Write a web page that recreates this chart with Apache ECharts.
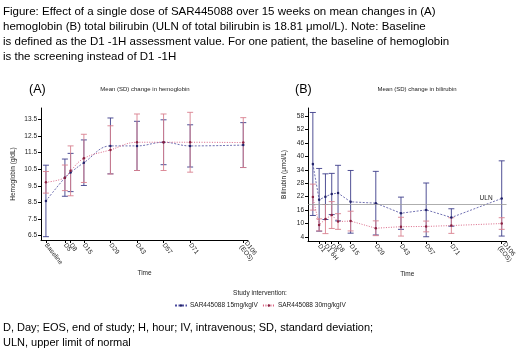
<!DOCTYPE html>
<html><head><meta charset="utf-8">
<script src="https://cdn.jsdelivr.net/npm/echarts@6/dist/echarts.min.js"></script>
<style>html,body{margin:0;padding:0;background:#fff}#c{width:520px;height:358px}</style>
</head><body><div id="c"></div>
<script>
// ---- Panel A: hemoglobin (g/dL) ----
const catsA = ['Baseline','D5','D8','D15','D29','D43','D57','D71','D106\n(EOS)'];
const dayA  = [-5, 5, 8, 15, 29, 43, 57, 71, 99];
const hb15Mean = [8.59, 9.99, 10.3, 10.89, 11.9, 11.9, 12.12, 11.9, 11.95];
const hb15SD   = [2.15, 1.12, 1.15, 1.37, 1.68, 1.48, 1.35, 1.27, 1.35];
const hb30Mean = [9.71, 9.98, 10.4, 11.15, 11.66, 12.12, 12.12, 12.12, 12.1];
const hb30SD   = [0.65, 0.77, 1.5, 1.45, 1.45, 1.7, 1.7, 1.8, 1.5];
const ticksA = [6.5, 7.5, 8.5, 9.5, 10.5, 11.5, 12.5, 13.5];

// ---- Panel B: bilirubin (umol/L) ----
const catsB = ['Baseline','D1','D1 6H','D5','D8','D15','D29','D43','D57','D71','D106\n(EOS)'];
const dayB  = [-6, -2.5, 1, 4.5, 8, 15, 29, 43, 57, 71, 99];
const bil15Mean = [36.6, 20.6, 22, 23.2, 23.6, 19.7, 19.1, 14.6, 16.1, 12.7, 21.2];
const bil15SD   = [23, 14, 10.2, 9.2, 12.4, 14, 14.2, 7.2, 12, 3.9, 16.8];
const bil30Mean = [21.8, 9.4, 12, 13.8, 10.9, 11.1, 7.9, 8.6, 8.7, 9.1, 10];
const bil30SD   = [5.8, 2.7, 6.5, 6, 3.5, 4.4, 3.3, 4.2, 2.4, 3.5, 2.6];
const ticksB = [4, 10, 16, 22, 28, 34, 40, 46, 52, 58];
const ULN = 18.81;

const seriesNames = ['SAR445088 15mg/kgIV', 'SAR445088 30mg/kgIV'];

const BLUE = '#4d4d9e', BLUE_BAR = '#3d3d8a', RED = '#d6587a', RED_BAR = '#d9808f';
const FONT = 'Liberation Sans, Arial, sans-serif';

function pts(days, means){ return days.map((d,i)=>[d, means[i]]); }
function bars(days, means, sds){ return days.map((d,i)=>[d, means[i]-sds[i], means[i]+sds[i]]); }
function errRender(color){
  return function(params, api){
    const x = api.value(0);
    const lo = api.coord([x, api.value(1)]);
    const hi = api.coord([x, api.value(2)]);
    const hw = 3;
    const st = {stroke: color, lineWidth: 0.9};
    return {type:'group', children:[
      {type:'line', shape:{x1:lo[0], y1:lo[1], x2:hi[0], y2:hi[1]}, style:st},
      {type:'line', shape:{x1:lo[0]-hw, y1:lo[1], x2:lo[0]+hw, y2:lo[1]}, style:st},
      {type:'line', shape:{x1:hi[0]-hw, y1:hi[1], x2:hi[0]+hw, y2:hi[1]}, style:st}
    ]};
  };
}
function labelMap(days, cats){ const m = {}; days.forEach((d,i)=>m[d]=cats[i]); return m; }
const mapA = labelMap(dayA, catsA), mapB = labelMap(dayB, catsB);

const tickStyle = {show:true, length:3, lineStyle:{color:'#000', width:1}};
const labFont = {fontFamily: FONT, fontSize: 6.5, color:'#222'};

function xAxis(gi, min, max, days, map){
  return {type:'value', gridIndex:gi, min, max, name:'Time', nameLocation:'middle', nameGap:30,
    nameTextStyle:{fontFamily:FONT, fontSize:6.5, color:'#222'},
    axisLine:{show:true, onZero:false, lineStyle:{color:'#000', width:1}}, splitLine:{show:false},
    axisTick:Object.assign({customValues: days}, tickStyle),
    axisLabel:Object.assign({customValues: days, rotate:-52, margin:4, lineHeight:6.5,
      formatter: v => map[v] || ''}, labFont)};
}
function yAxis(gi, min, max, ticks, name, fmt, gap){
  return {type:'value', gridIndex:gi, min, max, name, nameLocation:'middle', nameGap:gap,
    nameTextStyle:{fontFamily:FONT, fontSize:6.5, color:'#222'},
    axisLine:{show:true, onZero:false, lineStyle:{color:'#000', width:1}}, splitLine:{show:false},
    axisTick:Object.assign({customValues: ticks}, tickStyle),
    axisLabel:Object.assign({customValues: ticks, margin:4, formatter: fmt}, labFont)};
}

const chart = echarts.init(document.getElementById('c'), null, {renderer:'canvas'});
chart.setOption({
  animation:false,
  backgroundColor:'#fff',
  title:[
    {text:'Figure: Effect of a single dose of SAR445088 over 15 weeks on mean changes in (A)\nhemoglobin (B) total bilirubin (ULN of total bilirubin is 18.81 μmol/L). Note: Baseline\nis defined as the D1 -1H assessment value. For one patient, the baseline of hemoglobin\nis the screening instead of D1 -1H',
     left:3, top:4, padding:0, textStyle:{fontFamily:FONT, fontSize:11.5, fontWeight:'normal', color:'#000', lineHeight:15}},
    {text:'D, Day; EOS, end of study; H, hour; IV, intravenous; SD, standard deviation;\nULN, upper limit of normal',
     left:3, top:320, padding:0, textStyle:{fontFamily:FONT, fontSize:11, fontWeight:'normal', color:'#000', lineHeight:15}},
    {text:'(A)', left:29, top:83, padding:0, textStyle:{fontFamily:FONT, fontSize:12.5, fontWeight:'normal', color:'#000'}},
    {text:'(B)', left:295, top:83, padding:0, textStyle:{fontFamily:FONT, fontSize:12.5, fontWeight:'normal', color:'#000'}},
    {text:'Mean (SD) change in hemoglobin', left:145, textAlign:'center', top:86, padding:0, textStyle:{fontFamily:FONT, fontSize:6, fontWeight:'normal', color:'#222'}},
    {text:'Mean (SD) change in bilirubin', left:417, textAlign:'center', top:86, padding:0, textStyle:{fontFamily:FONT, fontSize:6, fontWeight:'normal', color:'#222'}},
    {text:'Study intervention:', left:260, textAlign:'center', top:290, padding:0, textStyle:{fontFamily:FONT, fontSize:6.5, fontWeight:'normal', color:'#222'}}
  ],
  legend:{data:seriesNames, left:174, top:302, itemWidth:12, itemHeight:3, itemGap:4, padding:0,
    textStyle:{fontFamily:FONT, fontSize:6.5, color:'#222', padding:[0,0,0,-2]}},
  grid:[
    {left:41, top:108, width:207, height:132},
    {left:308, top:108, width:207, height:133}
  ],
  xAxis:[ xAxis(0, -7.6, 101.5, dayA, mapA), xAxis(1, -8.7, 101.7, dayB, mapB) ],
  yAxis:[ yAxis(0, 6.24, 14.18, ticksA, 'Hemoglobin (g/dL)', v=>v.toFixed(1), 24),
          yAxis(1, 2.2, 61.6, ticksB, 'Bilirubin (μmol/L)', v=>String(v), 20) ],
  series:[
    {type:'custom', name:'errA15', xAxisIndex:0, yAxisIndex:0, renderItem:errRender(BLUE_BAR), data:bars(dayA, hb15Mean, hb15SD), z:2, silent:true},
    {type:'custom', name:'errA30', xAxisIndex:0, yAxisIndex:0, renderItem:errRender(RED_BAR), data:bars(dayA, hb30Mean, hb30SD), z:2, silent:true},
    {type:'custom', name:'errB15', xAxisIndex:1, yAxisIndex:1, renderItem:errRender(BLUE_BAR), data:bars(dayB, bil15Mean, bil15SD), z:2, silent:true},
    {type:'custom', name:'errB30', xAxisIndex:1, yAxisIndex:1, renderItem:errRender(RED_BAR), data:bars(dayB, bil30Mean, bil30SD), z:2, silent:true},
    {type:'line', name:seriesNames[0], xAxisIndex:0, yAxisIndex:0, data:pts(dayA, hb15Mean), smooth:0.4,
      symbol:'circle', symbolSize:2.5, color:BLUE, lineStyle:{width:0.8, type:[2,1.5], color:BLUE}, itemStyle:{color:'#22226a'}, z:3},
    {type:'line', name:seriesNames[1], xAxisIndex:0, yAxisIndex:0, data:pts(dayA, hb30Mean), smooth:0.4,
      symbol:'circle', symbolSize:2.5, color:RED, lineStyle:{width:0.9, type:[1,1.5], color:RED}, itemStyle:{color:'#8a2040'}, z:3},
    {type:'line', name:seriesNames[0], xAxisIndex:1, yAxisIndex:1, data:pts(dayB, bil15Mean),
      symbol:'circle', symbolSize:2.5, color:BLUE, lineStyle:{width:0.8, type:[2,1.5], color:BLUE}, itemStyle:{color:'#22226a'}, z:3,
      markLine:{silent:true, symbol:'none', lineStyle:{color:'#999', type:'solid', width:0.8},
        label:{show:true, position:'insideEndTop', formatter:'ULN', fontFamily:FONT, fontSize:6.5, color:'#222', distance:[14,2]},
        data:[{yAxis:ULN}]}},
    {type:'line', name:seriesNames[1], xAxisIndex:1, yAxisIndex:1, data:pts(dayB, bil30Mean),
      symbol:'circle', symbolSize:2.5, color:RED, lineStyle:{width:0.9, type:[1,1.5], color:RED}, itemStyle:{color:'#8a2040'}, z:3}
  ]
});
</script></body></html>
